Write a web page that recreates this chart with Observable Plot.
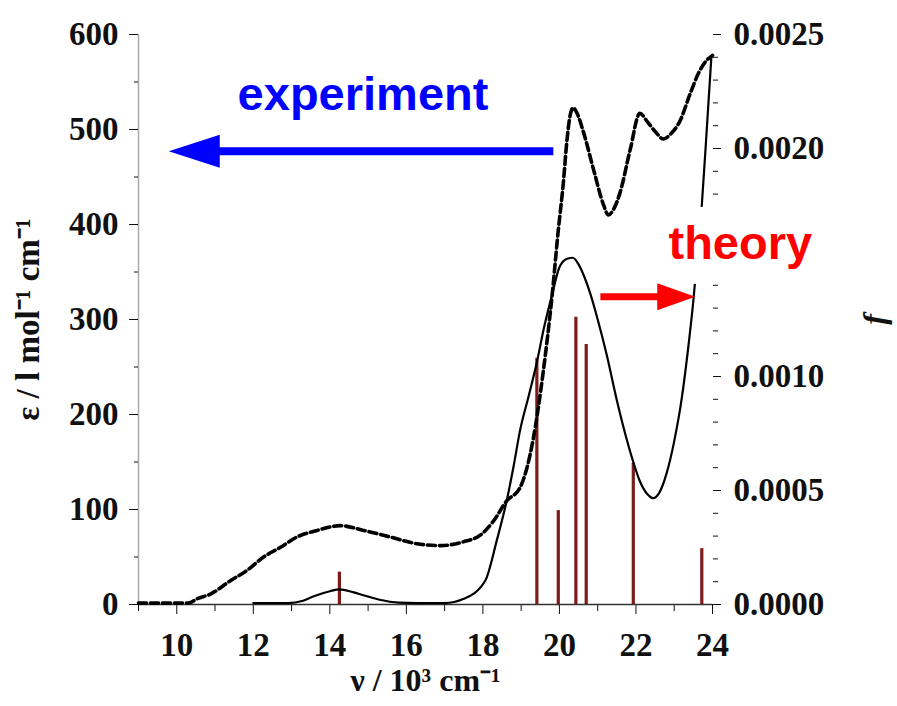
<!DOCTYPE html>
<html>
<head>
<meta charset="utf-8">
<script src="https://cdn.jsdelivr.net/npm/d3@7"></script>
<script src="https://cdn.jsdelivr.net/npm/@observablehq/plot@0.6"></script>
<style>
  html, body { margin: 0; padding: 0; background: #fff; }
  #chart { width: 897px; height: 706px; }
</style>
</head>
<body>
<div id="chart"></div>
<script>
// ---- data ----
const expNu  = [9.0, 10.3, 10.53, 10.88, 11.4, 11.84, 12.27, 12.7, 13.14, 13.67, 14.27, 14.88, 15.58, 16.28, 16.89, 17.49, 17.93, 18.28, 18.62, 18.97, 19.31, 19.57, 19.82, 19.96, 20.1, 20.2, 20.28, 20.36, 20.45, 20.63, 20.89, 21.15, 21.28, 21.4, 21.58, 21.85, 22.1, 22.3, 22.5, 22.72, 22.9, 23.15, 23.41, 23.63, 23.85, 23.94, 24.0];
const expEps = [1.5, 1.5, 6, 11, 25, 36, 50, 60, 71, 78, 83, 78, 71, 64, 62, 66, 73, 88, 109, 123, 173, 243, 330, 390, 443, 490, 515, 523, 518, 497, 458, 421, 410, 415, 433, 479, 517, 508, 498, 490, 495, 509, 537, 559, 573, 576, 578];

const theoNu  = [12.0, 12.9, 13.3, 13.6, 14.0, 14.25, 14.6, 14.9, 15.3, 15.8, 16.3, 17.0, 17.5, 18.06, 18.36, 18.62, 18.8, 18.97, 19.2, 19.41, 19.6, 19.82, 20.0, 20.2, 20.35, 20.5, 20.65, 20.8, 21.0, 21.24, 21.5, 21.75, 21.93, 22.1, 22.3, 22.45, 22.6, 22.8, 23.0, 23.2, 23.35, 23.5, 23.6, 23.72, 23.85, 23.97];
const theoEps = [1.5, 1.5, 4, 9, 14, 16, 13, 9.5, 5, 2, 1.5, 1.5, 6, 25, 67, 109, 145, 183, 220, 255, 292, 328, 355, 364, 365, 358, 345, 328, 300, 262, 215, 175, 150, 130, 116, 112, 117, 138, 172, 218, 265, 320, 365, 420, 500, 576];

const barNu = [14.25, 19.41, 19.97, 20.43, 20.70, 21.93, 23.72];
const barF  = [0.000142, 0.00108, 0.000412, 0.00126, 0.00114, 0.00062, 0.000245];

const leftTicks   = [0, 100, 200, 300, 400, 500, 600];
const leftMinor   = [50, 150, 250, 350, 450, 550];
const bottomTicks = [10, 12, 14, 16, 18, 20, 22, 24];
const bottomMinor = [9, 11, 13, 15, 17, 19, 21, 23];
const rightTicks  = [0, 0.0005, 0.0010, 0.0020, 0.0025];
const rightMinor  = [0.0001, 0.0002, 0.0003, 0.0004, 0.0006, 0.0007, 0.0008, 0.0009, 0.0011, 0.0012, 0.0013, 0.0014, 0.0015, 0.0016, 0.0017, 0.0018, 0.0019, 0.0021, 0.0022, 0.0023, 0.0024];

const yLabel = "ε / l mol⁻¹ cm⁻¹";
const xLabel = "ν / 10³ cm⁻¹";
const fLabel = "f";
const expLabel = "experiment";
const theoLabel = "theory";

// ---- build ----
const K = 600 / 0.0025; // f -> ε axis
const expData  = expNu.map((v, i) => ({nu: v, eps: expEps[i]}));
const theoData = theoNu.map((v, i) => ({nu: v, eps: theoEps[i]}));
const bars     = barNu.map((v, i) => ({nu: v, f: barF[i]}));

const leftHead  = {draw(ctx) { ctx.moveTo(0, 0); ctx.lineTo(51, -16.5); ctx.lineTo(51, 16.5); ctx.closePath(); }};
const rightHead = {draw(ctx) { ctx.moveTo(0, 0); ctx.lineTo(-38, -13.5); ctx.lineTo(-38, 13.5); ctx.closePath(); }};

const annoFont = "'Liberation Sans', Arial, sans-serif";

const chart = Plot.plot({
  width: 897,
  height: 706,
  marginLeft: 138,
  marginRight: 185,
  marginTop: 34,
  marginBottom: 102,
  x: {domain: [9, 24]},
  y: {domain: [0, 600]},
  style: {fontFamily: "'Liberation Serif', 'Times New Roman', serif", fontSize: "33px", fontWeight: "bold", color: "#111", background: "#fff"},
  marks: [
    Plot.ruleX([9], {stroke: "#aaa", strokeWidth: 1.5}),
    Plot.axisY({ticks: leftTicks, tickSize: 9, tickPadding: 11, label: null, fontSize: 33}),
    Plot.axisY({ticks: leftMinor, tickSize: 4, tickPadding: 0, tickFormat: () => "", label: null}),
    Plot.axisX({ticks: bottomTicks, tickSize: 10, tickPadding: 18, label: null, fontSize: 33}),
    Plot.axisX({ticks: bottomMinor, tickSize: 7, tickPadding: 0, tickFormat: () => "", label: null}),
    Plot.axisY({anchor: "right", ticks: rightTicks.map(f => f * K), tickSize: 8, tickPadding: 13,
                tickFormat: d => (d / K).toFixed(4), label: null, fontSize: 33}),
    Plot.axisY({anchor: "right", ticks: rightMinor.map(f => f * K), tickSize: 5, tickPadding: 0,
                tickFormat: () => "", label: null}),
    Plot.ruleY([0], {stroke: "#333", strokeWidth: 1.5}),
    Plot.ruleX(bars, {x: "nu", y1: 0, y2: d => d.f * K, stroke: "#7e1a1a", strokeWidth: 3.2}),
    Plot.line(expData, {x: "nu", y: "eps", curve: "monotone-x", stroke: "#000", strokeWidth: 3.6, strokeDasharray: "8,4"}),
    Plot.line(theoData, {x: "nu", y: "eps", curve: "monotone-x", stroke: "#000", strokeWidth: 2.2}),
    // blue arrow
    Plot.line([{nu: 19.84, eps: 477}, {nu: 10.9, eps: 477}], {x: "nu", y: "eps", stroke: "#0000ff", strokeWidth: 8, strokeLinecap: "butt"}),
    Plot.dot([{nu: 9.79, eps: 477}], {x: "nu", y: "eps", symbol: leftHead, fill: "#0000ff", stroke: "none", r: 5}),
    // white box behind "theory"
    Plot.rect([{x1: 22.77, x2: 27.2, y1: 337, y2: 418}], {x1: "x1", x2: "x2", y1: "y1", y2: "y2", fill: "#fff"}),
    // red arrow
    Plot.line([{nu: 21.07, eps: 324}, {nu: 22.7, eps: 324}], {x: "nu", y: "eps", stroke: "#ff0000", strokeWidth: 7, strokeLinecap: "butt"}),
    Plot.dot([{nu: 23.55, eps: 324}], {x: "nu", y: "eps", symbol: rightHead, fill: "#ff0000", stroke: "none", r: 5}),
    Plot.text([expLabel], {x: 11.59, y: 521, text: d => d, textAnchor: "start", lineAnchor: "bottom",
               fill: "#0000ff", fontSize: 47, fontWeight: "bold", fontFamily: annoFont}),
    Plot.text([theoLabel], {x: 22.85, y: 364, text: d => d, textAnchor: "start", lineAnchor: "bottom",
               fill: "#ff0000", fontSize: 47, fontWeight: "bold", fontFamily: annoFont}),
    // axis titles
    Plot.text([yLabel], {frameAnchor: "left", dx: -110, rotate: -90, textAnchor: "middle", text: d => d, fontSize: 33, fill: "#111"}),
    Plot.text([xLabel], {frameAnchor: "bottom", dy: 86, textAnchor: "middle", text: d => d, fontSize: 32, fill: "#111"}),
    Plot.text([fLabel], {frameAnchor: "right", dx: 162, rotate: -90, textAnchor: "middle", text: d => d, fontSize: 32, fontStyle: "italic", fill: "#111"})
  ]
});
document.getElementById("chart").appendChild(chart);
</script>
</body>
</html>
